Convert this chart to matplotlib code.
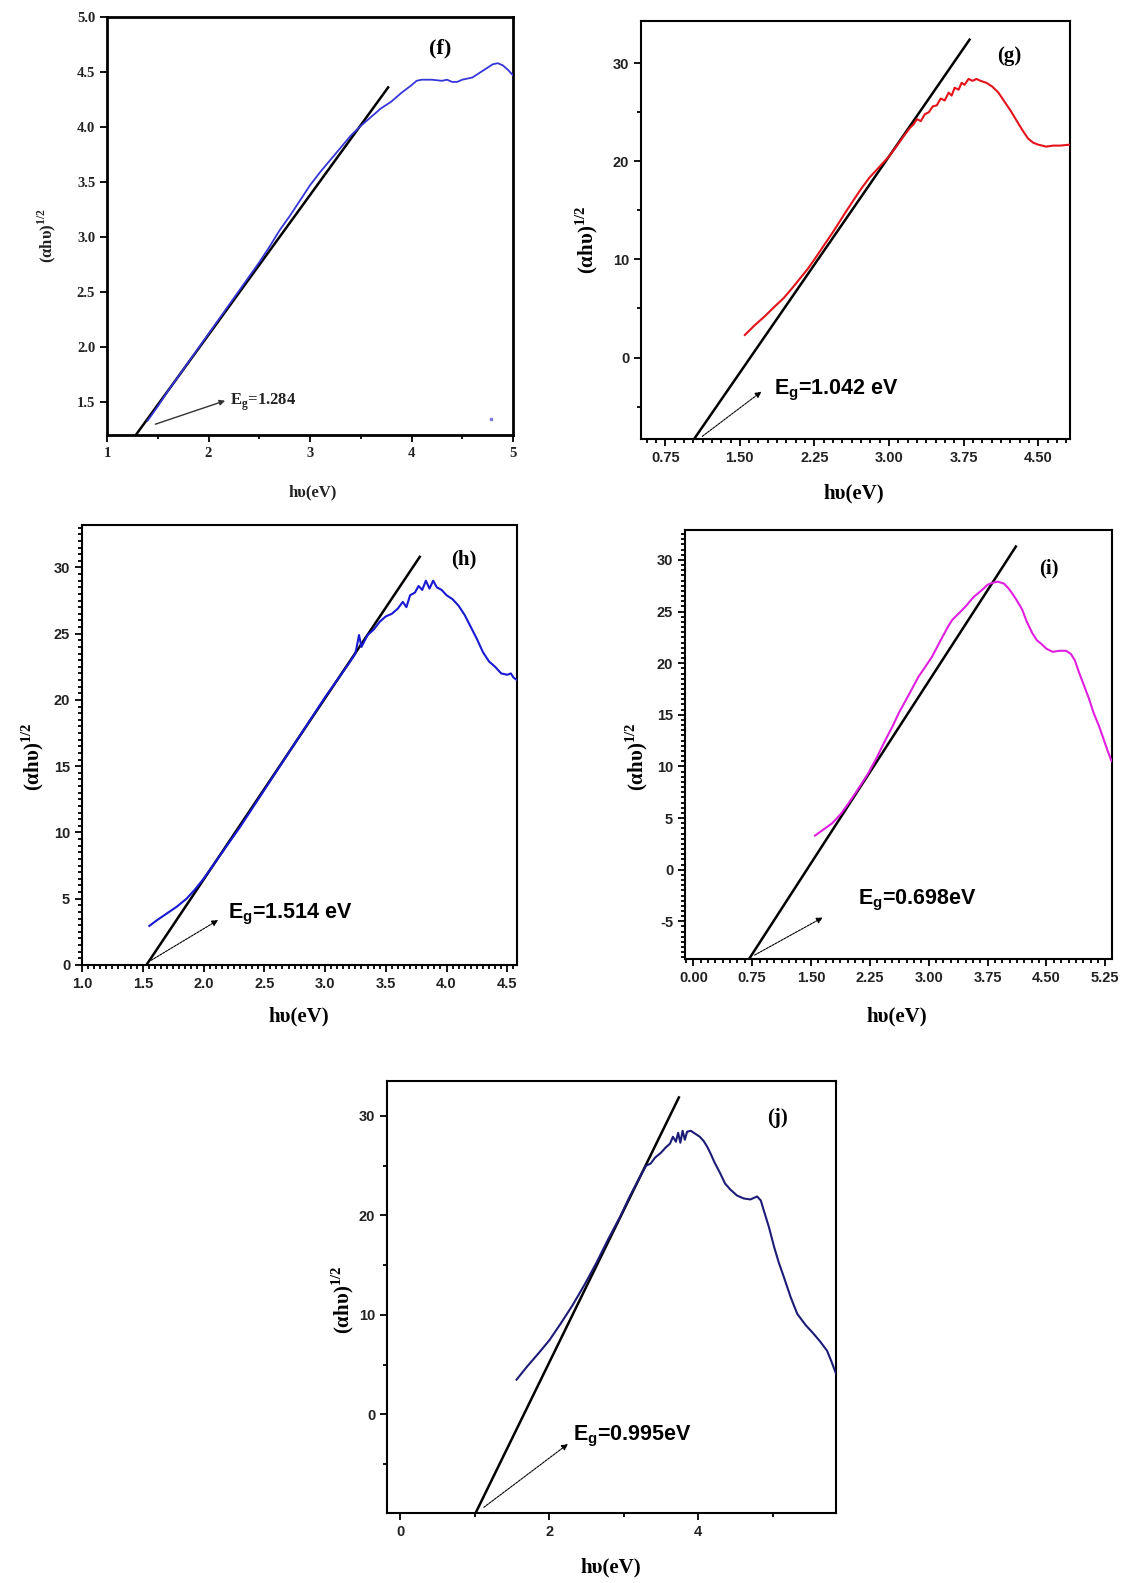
import matplotlib
matplotlib.use("Agg")
import matplotlib.pyplot as plt
from matplotlib.ticker import AutoMinorLocator, MultipleLocator, FixedLocator, FormatStrFormatter
import numpy as np

W, H = 1133, 1583

# ---------------- data ----------------
# (f)
f_x = [1.40, 1.50, 1.60, 1.70, 1.80, 1.90, 2.00, 2.10, 2.20, 2.30, 2.40, 2.50, 2.60, 2.70, 2.80, 2.90,
       3.00, 3.10, 3.20, 3.30, 3.40, 3.50, 3.60, 3.70, 3.80, 3.90, 4.00, 4.05, 4.10, 4.20, 4.30, 4.35,
       4.40, 4.45, 4.50, 4.60, 4.70, 4.80, 4.85, 4.90, 4.95, 5.00]
f_y = [1.33, 1.46, 1.60, 1.73, 1.86, 1.99, 2.12, 2.25, 2.38, 2.51, 2.64, 2.77, 2.91, 3.06, 3.19, 3.33,
       3.47, 3.59, 3.70, 3.81, 3.92, 4.01, 4.09, 4.17, 4.23, 4.31, 4.38, 4.42, 4.43, 4.43, 4.42, 4.43,
       4.41, 4.41, 4.43, 4.45, 4.51, 4.57, 4.58, 4.56, 4.52, 4.47]
f_fit_x = [1.284, 3.77]
f_fit_y = [1.20, 4.36]
f_eg = "1.284"

# (g)
g_x = [1.55, 1.65, 1.75, 1.85, 1.94, 2.02, 2.10, 2.18, 2.25, 2.35, 2.45, 2.55, 2.64, 2.72, 2.80, 2.90,
       3.00, 3.08, 3.15, 3.21, 3.25, 3.28, 3.32, 3.36, 3.40, 3.44, 3.48, 3.52, 3.56, 3.60, 3.63, 3.66,
       3.70, 3.73, 3.76, 3.80, 3.84, 3.88, 3.92, 3.98, 4.04, 4.10, 4.16, 4.22, 4.28, 4.34, 4.40, 4.45,
       4.50, 4.58, 4.65, 4.72, 4.82]
g_y = [2.3, 3.3, 4.2, 5.2, 6.05, 7.0, 8.0, 9.0, 10.0, 11.5, 13.0, 14.6, 16.0, 17.2, 18.3, 19.4,
       20.5, 21.6, 22.6, 23.4, 23.8, 24.3, 24.1, 24.8, 25.0, 25.6, 25.7, 26.4, 26.2, 27.0, 26.7, 27.5,
       27.3, 28.0, 27.8, 28.4, 28.2, 28.4, 28.2, 28.0, 27.6, 27.0, 26.1, 25.2, 24.2, 23.2, 22.3, 21.9,
       21.7, 21.5, 21.6, 21.6, 21.7]
g_fit_x = [1.04, 3.81]
g_fit_y = [-8.3, 32.4]
g_eg = "1.042 eV"

# (h)
h_x = [1.554, 1.62, 1.70, 1.78, 1.86, 1.93, 2.00, 2.10, 2.20, 2.30, 2.40, 2.50, 2.60, 2.70, 2.80, 2.90,
       3.00, 3.10, 3.20, 3.25, 3.28, 3.30, 3.35, 3.40, 3.45, 3.50, 3.55, 3.60, 3.64, 3.67, 3.70, 3.74,
       3.77, 3.80, 3.83, 3.86, 3.89, 3.92, 3.96, 4.00, 4.05, 4.10, 4.15, 4.20, 4.25, 4.30, 4.35, 4.40,
       4.45, 4.50, 4.53, 4.55, 4.58]
h_y = [2.95, 3.4, 3.9, 4.4, 5.0, 5.7, 6.5, 7.8, 9.1, 10.4, 11.8, 13.2, 14.6, 16.0, 17.4, 18.8,
       20.2, 21.5, 22.8, 23.5, 24.9, 24.0, 24.9, 25.3, 25.9, 26.3, 26.5, 26.9, 27.4, 27.0, 27.9, 28.1,
       28.6, 28.3, 29.0, 28.4, 29.0, 28.5, 28.3, 27.9, 27.6, 27.1, 26.4, 25.5, 24.6, 23.6, 22.9, 22.5,
       22.0, 21.9, 22.0, 21.7, 21.5]
h_fit_x = [1.53, 3.78]
h_fit_y = [0.0, 30.8]
h_eg = "1.514 eV"

# (i)
i_x = [1.55, 1.66, 1.77, 1.88, 1.98, 2.10, 2.23, 2.34, 2.45, 2.54, 2.62, 2.75, 2.87, 2.96, 3.04, 3.15,
       3.25, 3.30, 3.38, 3.47, 3.57, 3.68, 3.75, 3.82, 3.88, 3.96, 4.01, 4.06, 4.12, 4.19, 4.25, 4.32,
       4.38, 4.43, 4.50, 4.58, 4.66, 4.75, 4.81, 4.86, 4.92, 4.97, 5.04, 5.10, 5.17, 5.23, 5.28, 5.33]
i_y = [3.3, 3.9, 4.5, 5.4, 6.45, 7.8, 9.35, 10.9, 12.6, 13.9, 15.2, 17.0, 18.7, 19.7, 20.6, 22.2,
       23.6, 24.2, 24.8, 25.5, 26.4, 27.1, 27.6, 27.8, 27.9, 27.7, 27.3, 26.8, 26.1, 25.2, 24.0, 22.9,
       22.2, 21.9, 21.4, 21.1, 21.2, 21.2, 20.9, 20.3, 19.0, 18.0, 16.6, 15.2, 13.9, 12.6, 11.5, 10.5]
i_fit_x = [0.71, 4.11]
i_fit_y = [-8.65, 31.3]
i_eg = "0.698eV"

# (j)
j_x = [1.56, 1.70, 1.85, 2.00, 2.15, 2.31, 2.47, 2.63, 2.79, 2.95, 3.08, 3.22, 3.30, 3.36, 3.42, 3.50,
       3.56, 3.62, 3.66, 3.70, 3.73, 3.76, 3.79, 3.82, 3.85, 3.90, 3.96, 4.02, 4.07, 4.12, 4.16, 4.22,
       4.29, 4.36, 4.43, 4.52, 4.61, 4.70, 4.79, 4.84, 4.88, 4.95, 5.02, 5.08, 5.15, 5.24, 5.33, 5.44,
       5.55, 5.64, 5.73, 5.79, 5.85]
j_y = [3.5, 4.8, 6.1, 7.45, 9.1, 10.95, 13.0, 15.2, 17.6, 19.85, 21.9, 23.9, 25.0, 25.2, 25.8, 26.3,
       26.8, 27.2, 27.9, 27.4, 28.3, 27.3, 28.5, 27.6, 28.4, 28.5, 28.2, 27.9, 27.5, 26.9, 26.3, 25.3,
       24.3, 23.2, 22.6, 22.0, 21.7, 21.6, 21.9, 21.5, 20.5, 18.8, 16.8, 15.3, 13.8, 11.8, 10.1, 9.0,
       8.1, 7.3, 6.4, 5.3, 4.1]
j_fit_x = [1.01, 3.74]
j_fit_y = [-9.9, 31.85]
j_eg = "0.995eV"

# ---------------- helpers ----------------
serif = ["Liberation Serif", "DejaVu Serif"]
sans = ["Liberation Sans", "DejaVu Sans"]

fig = plt.figure(figsize=(W / 100, H / 100), dpi=100)


def make_ax(l, t, r, b):
    return fig.add_axes([l / W, 1 - b / H, (r - l) / W, (b - t) / H])


def style(ax, fam, size, lw=1.5):
    for s in ax.spines.values():
        s.set_linewidth(lw)
    ax.tick_params(which="both", direction="out", width=1.3, top=False, right=False)
    ax.tick_params(which="major", length=5)
    ax.tick_params(which="minor", length=3)
    for lab in ax.get_xticklabels() + ax.get_yticklabels():
        lab.set_family(fam)
        lab.set_fontsize(size)
        lab.set_fontweight("bold")
        lab.set_color("#222222")


def ftext(x, y, s, **kw):
    fig.text(x / W, 1 - y / H, s, ha="center", va="center", **kw)


ylab = "(αhυ)$^\\mathregular{1/2}$"
xlab = "hυ(eV)"
arrow_kw = dict(arrowstyle="-|>", lw=0.8, ls=(0, (2, 1)), color="black", mutation_scale=9)

# ---------------- (f) ----------------
ax = make_ax(107, 17, 513, 435)
ax.plot(f_fit_x, f_fit_y, color="black", lw=1.8, zorder=2)
ax.plot(f_x, f_y, color="#3636d8", lw=1.3, zorder=3)
ax.plot([4.78], [1.35], marker="s", ms=1.5, color="#7a7ae0", lw=0)
ax.set_xlim(1, 5)
ax.set_ylim(1.2, 5.0)
ax.xaxis.set_major_locator(MultipleLocator(1))
ax.xaxis.set_minor_locator(MultipleLocator(0.5))
ax.yaxis.set_major_locator(FixedLocator([1.5, 2.0, 2.5, 3.0, 3.5, 4.0, 4.5, 5.0]))
ax.set_yticklabels(["1.5", "2.0", "2.5", "3.0", "3.5", "4.0", "4.5", "5.0"])
style(ax, serif, 10.5, lw=2.0)
ax.text(4.28, 4.71, "(f)", family=serif, fontweight="bold", fontsize=16, ha="center", va="center")
ax.annotate("", xy=(2.19, 1.52), xytext=(1.45, 1.29),
            arrowprops=dict(arrowstyle="-|>", lw=1.0, color="#333333", mutation_scale=8))
ax.text(2.21, 1.5, "E$_\\mathregular{g}$=" + f_eg, family=serif, fontweight="bold", fontsize=12,
        va="center", ha="left", color="#222222")
ftext(47, 236, ylab, rotation=90, family=serif, fontweight="bold", fontsize=12, color="#222222")
ftext(313, 492, xlab, family=serif, fontweight="bold", fontsize=12, color="#222222")

# ---------------- (g) ----------------
ax = make_ax(641, 21, 1070, 439)
ax.plot(g_fit_x, g_fit_y, color="black", lw=1.8, zorder=2)
ax.plot(g_x, g_y, color="#e3141b", lw=1.5, zorder=3)
ax.set_xlim(0.506, 4.82)
ax.set_ylim(-8.3, 34.3)
ax.xaxis.set_major_locator(MultipleLocator(0.75))
ax.xaxis.set_minor_locator(AutoMinorLocator(8))
ax.yaxis.set_major_locator(MultipleLocator(10))
ax.yaxis.set_minor_locator(MultipleLocator(5))
ax.xaxis.set_major_formatter(FormatStrFormatter("%.2f"))
style(ax, sans, 10.5)
ax.text(4.21, 30.7, "(g)", family=serif, fontweight="bold", fontsize=15, ha="center", va="center")
ax.annotate("", xy=(1.74, -3.3), xytext=(1.10, -8.2), arrowprops=arrow_kw)
ax.text(1.84, -3.4, "E$_\\mathregular{g}$=" + g_eg, family=sans, fontweight="bold", fontsize=15.5,
        va="center", ha="left")
ftext(587, 240, ylab, rotation=90, family=serif, fontweight="bold", fontsize=15)
ftext(854, 493, xlab, family=serif, fontweight="bold", fontsize=15)

# ---------------- (h) ----------------
ax = make_ax(82, 525, 517, 965)
ax.plot(h_fit_x, h_fit_y, color="black", lw=1.8, zorder=2)
ax.plot(h_x, h_y, color="#1919d4", lw=1.5, zorder=3)
ax.set_xlim(1.0, 4.58)
ax.set_ylim(0, 33.2)
ax.xaxis.set_major_locator(MultipleLocator(0.5))
ax.xaxis.set_minor_locator(AutoMinorLocator(10))
ax.yaxis.set_major_locator(MultipleLocator(5))
ax.yaxis.set_minor_locator(AutoMinorLocator(10))
style(ax, sans, 10.5)
ax.text(4.14, 30.6, "(h)", family=serif, fontweight="bold", fontsize=15, ha="center", va="center")
ax.annotate("", xy=(2.14, 3.5), xytext=(1.55, 0.25), arrowprops=arrow_kw)
ax.text(2.20, 3.8, "E$_\\mathregular{g}$=" + h_eg, family=sans, fontweight="bold", fontsize=15.5,
        va="center", ha="left")
ftext(33, 757, ylab, rotation=90, family=serif, fontweight="bold", fontsize=15)
ftext(299, 1016, xlab, family=serif, fontweight="bold", fontsize=15)

# ---------------- (i) ----------------
ax = make_ax(685, 530, 1112, 959)
ax.plot(i_fit_x, i_fit_y, color="black", lw=1.8, zorder=2)
ax.plot(i_x, i_y, color="#e01fe0", lw=1.5, zorder=3)
ax.set_xlim(-0.106, 5.335)
ax.set_ylim(-8.65, 32.9)
ax.xaxis.set_major_locator(MultipleLocator(0.75))
ax.xaxis.set_minor_locator(AutoMinorLocator(8))
ax.yaxis.set_major_locator(MultipleLocator(5))
ax.yaxis.set_minor_locator(AutoMinorLocator(10))
ax.xaxis.set_major_formatter(FormatStrFormatter("%.2f"))
ax.yaxis.set_major_formatter(matplotlib.ticker.FuncFormatter(lambda v, p: "%d" % v))
style(ax, sans, 10.5)
ax.text(4.53, 29.2, "(i)", family=serif, fontweight="bold", fontsize=15, ha="center", va="center")
ax.annotate("", xy=(1.68, -4.5), xytext=(0.75, -8.4), arrowprops=arrow_kw)
ax.text(2.10, -3.0, "E$_\\mathregular{g}$=" + i_eg, family=sans, fontweight="bold", fontsize=15.5,
        va="center", ha="left")
ftext(637, 757, ylab, rotation=90, family=serif, fontweight="bold", fontsize=15)
ftext(897, 1016, xlab, family=serif, fontweight="bold", fontsize=15)

# ---------------- (j) ----------------
ax = make_ax(387, 1081, 836, 1513)
ax.plot(j_fit_x, j_fit_y, color="black", lw=1.8, zorder=2)
ax.plot(j_x, j_y, color="#1c1c78", lw=1.5, zorder=3)
ax.set_xlim(-0.18, 5.85)
ax.set_ylim(-9.9, 33.5)
ax.xaxis.set_major_locator(MultipleLocator(2))
ax.xaxis.set_minor_locator(MultipleLocator(1))
ax.yaxis.set_major_locator(MultipleLocator(10))
ax.yaxis.set_minor_locator(MultipleLocator(5))
style(ax, sans, 10.5)
ax.text(5.07, 29.8, "(j)", family=serif, fontweight="bold", fontsize=15, ha="center", va="center")
ax.annotate("", xy=(2.28, -2.8), xytext=(1.09, -9.5), arrowprops=arrow_kw)
ax.text(2.32, -2.2, "E$_\\mathregular{g}$=" + j_eg, family=sans, fontweight="bold", fontsize=15.5,
        va="center", ha="left")
ftext(343, 1300, ylab, rotation=90, family=serif, fontweight="bold", fontsize=15)
ftext(611, 1567, xlab, family=serif, fontweight="bold", fontsize=15)

fig.savefig("out.png", dpi=100, facecolor="white")
